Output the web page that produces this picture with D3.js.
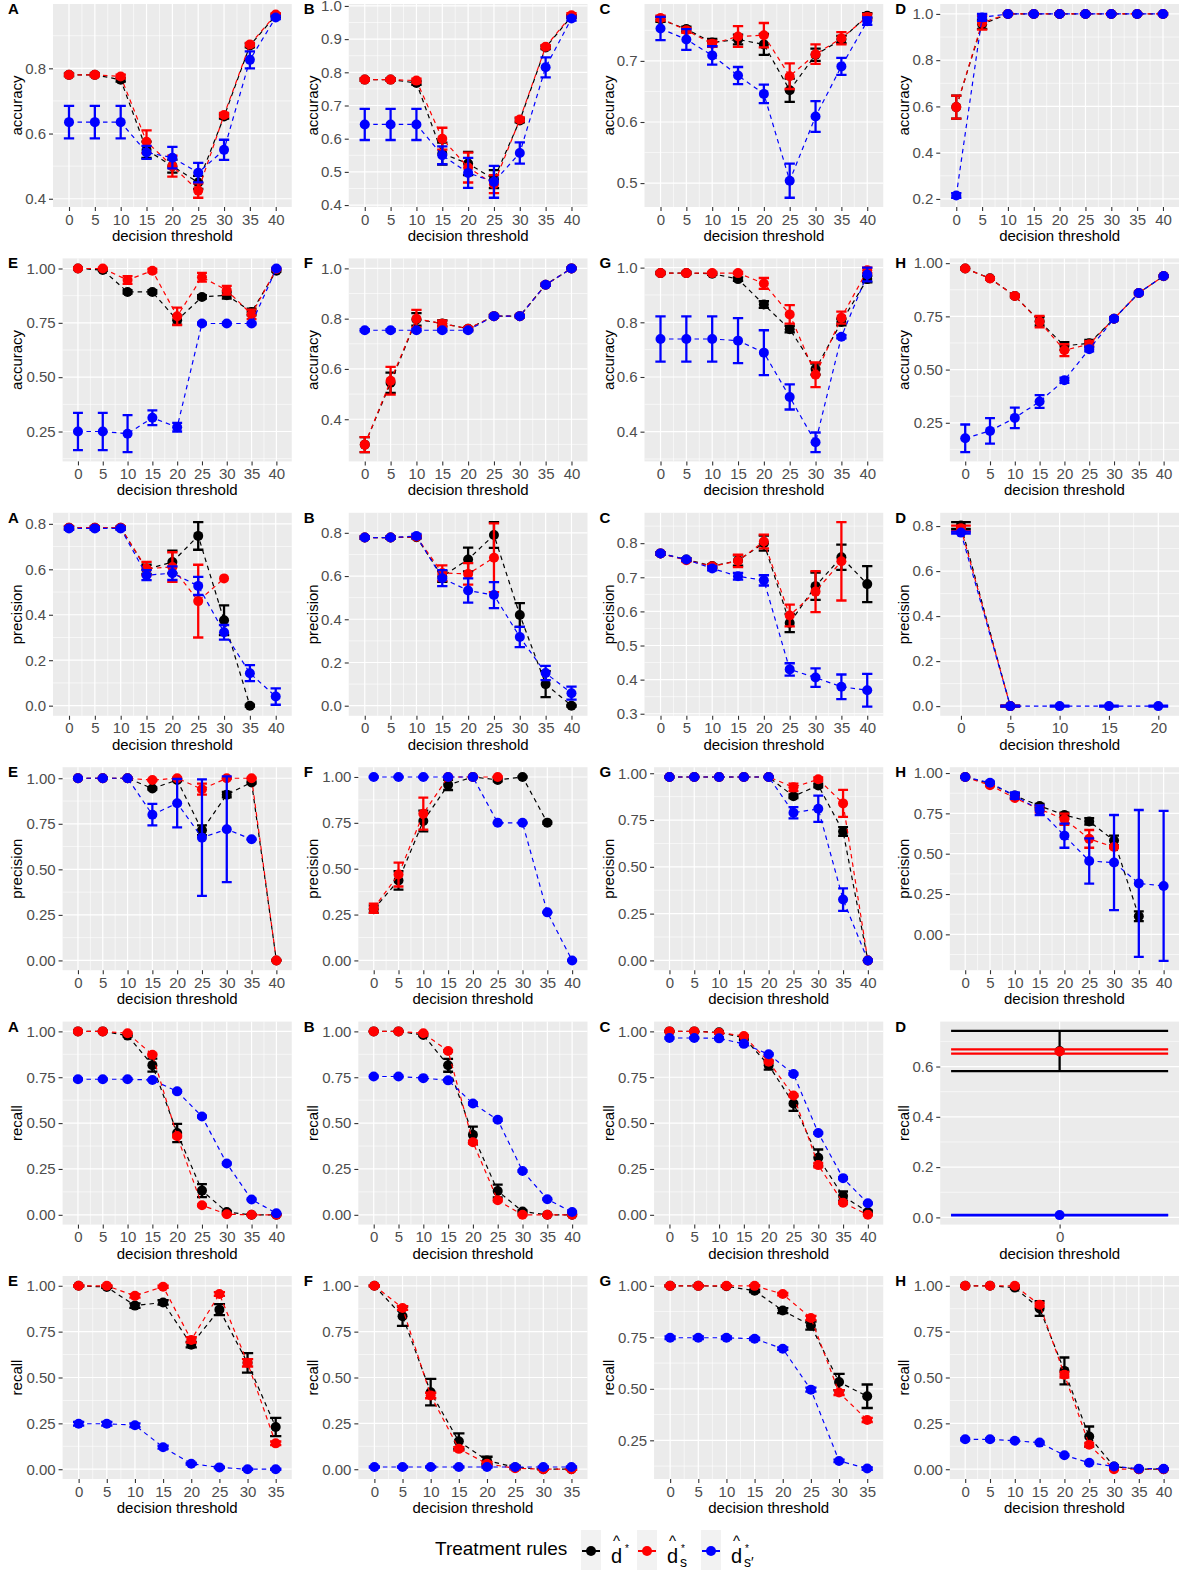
<!DOCTYPE html>
<html>
<head>
<meta charset="utf-8">
<script src="https://cdn.jsdelivr.net/npm/d3@7"></script>
<style>
  body { margin: 0; background: #fff; }
  text { font-family: "Liberation Sans", Arial, sans-serif; }
</style>
</head>
<body>
<div id="chart"></div>
<script>
// thresholds on the x axis
const thr9 = [0, 5, 10, 15, 20, 25, 30, 35, 40];
const thr8 = [0, 5, 10, 15, 20, 25, 30, 35];
const thr5 = [0, 5, 10, 15, 20];
const thr1 = [0];

// y tick labels per panel
const ticksA1 = [0.4, 0.6, 0.8];
const ticks01 = [0.4, 0.5, 0.6, 0.7, 0.8, 0.9, 1.0];
const ticksC1 = [0.5, 0.6, 0.7];
const ticks02 = [0.2, 0.4, 0.6, 0.8, 1.0];
const ticksQ = [0.25, 0.50, 0.75, 1.00];
const ticks04 = [0.4, 0.6, 0.8, 1.0];
const ticksP = [0, 0.2, 0.4, 0.6, 0.8];
const ticksC3 = [0.3, 0.4, 0.5, 0.6, 0.7, 0.8];
const ticksQ0 = [0, 0.25, 0.50, 0.75, 1.00];
const ticksD5 = [0, 0.2, 0.4, 0.6];

// ---- accuracy ----  (k = d*, s = d*_s, sp = d*_s')
const accA_k = [0.78, 0.78, 0.765, 0.55, 0.50, 0.45, 0.652, 0.87, 0.962];
const accA_kE = [0.004, 0.004, 0.006, 0.025, 0.02, 0.02, 0.006, 0.006, 0.004];
const accA_s = [0.78, 0.78, 0.775, 0.575, 0.50, 0.425, 0.657, 0.873, 0.965];
const accA_sE = [0.004, 0.004, 0.006, 0.035, 0.032, 0.022, 0.006, 0.005, 0.004];
const accA_sp = [0.635, 0.635, 0.635, 0.542, 0.526, 0.48, 0.55, 0.826, 0.956];
const accA_spE = [0.05, 0.05, 0.05, 0.02, 0.033, 0.03, 0.031, 0.026, 0.005];

const accB_k = [0.778, 0.778, 0.768, 0.555, 0.525, 0.478, 0.655, 0.875, 0.968];
const accB_kE = [0.004, 0.004, 0.006, 0.033, 0.035, 0.027, 0.006, 0.005, 0.004];
const accB_s = [0.778, 0.778, 0.775, 0.60, 0.513, 0.463, 0.658, 0.877, 0.972];
const accB_sE = [0.004, 0.004, 0.006, 0.033, 0.045, 0.027, 0.006, 0.005, 0.006];
const accB_sp = [0.643, 0.643, 0.643, 0.55, 0.497, 0.47, 0.557, 0.815, 0.962];
const accB_spE = [0.047, 0.047, 0.047, 0.027, 0.045, 0.048, 0.032, 0.03, 0.006];

const accC_k = [0.768, 0.752, 0.73, 0.735, 0.727, 0.652, 0.71, 0.735, 0.774];
const accC_kE = [0.004, 0.004, 0.006, 0.008, 0.017, 0.019, 0.01, 0.006, 0.004];
const accC_s = [0.77, 0.75, 0.728, 0.74, 0.742, 0.675, 0.711, 0.737, 0.772];
const accC_sE = [0.004, 0.004, 0.005, 0.017, 0.02, 0.021, 0.016, 0.01, 0.005];
const accC_sp = [0.753, 0.735, 0.709, 0.676, 0.646, 0.504, 0.609, 0.691, 0.765];
const accC_spE = [0.019, 0.017, 0.015, 0.014, 0.015, 0.028, 0.025, 0.014, 0.006];

const accD_k = [0.597, 0.955, 1, 1, 1, 1, 1, 1, 1];
const accD_kE = [0.05, 0.02, 0.003, 0.003, 0.003, 0.003, 0.003, 0.003, 0.003];
const accD_s = [0.597, 0.962, 1, 1, 1, 1, 1, 1, 1];
const accD_sE = [0.05, 0.03, 0.003, 0.003, 0.003, 0.003, 0.003, 0.003, 0.003];
const accD_sp = [0.215, 0.985, 1, 1, 1, 1, 1, 1, 1];
const accD_spE = [0.01, 0.015, 0.003, 0.003, 0.003, 0.003, 0.003, 0.003, 0.003];

const accE_k = [1, 0.993, 0.892, 0.892, 0.762, 0.869, 0.877, 0.8, 0.99];
const accE_kE = [0.003, 0.004, 0.008, 0.008, 0.02, 0.008, 0.015, 0.015, 0.006];
const accE_s = [1, 1, 0.947, 0.99, 0.78, 0.96, 0.9, 0.789, 0.998];
const accE_sE = [0.003, 0.003, 0.018, 0.008, 0.04, 0.02, 0.02, 0.022, 0.004];
const accE_sp = [0.25, 0.25, 0.24, 0.313, 0.27, 0.747, 0.747, 0.747, 1.0];
const accE_spE = [0.086, 0.086, 0.085, 0.034, 0.02, 0.004, 0.004, 0.004, 0.004];

const accF_k = [0.299, 0.545, 0.797, 0.781, 0.76, 0.81, 0.81, 0.935, 1.0];
const accF_kE = [0.03, 0.04, 0.025, 0.012, 0.006, 0.005, 0.005, 0.004, 0.003];
const accF_s = [0.299, 0.553, 0.8, 0.78, 0.76, 0.81, 0.81, 0.935, 1.0];
const accF_sE = [0.03, 0.055, 0.035, 0.012, 0.006, 0.005, 0.005, 0.004, 0.003];
const accF_sp = [0.754, 0.754, 0.754, 0.754, 0.754, 0.81, 0.81, 0.935, 1.0];
const accF_spE = [0.004, 0.004, 0.004, 0.004, 0.004, 0.004, 0.004, 0.004, 0.003];

const accG_k = [0.98, 0.98, 0.978, 0.958, 0.865, 0.775, 0.629, 0.801, 0.958];
const accG_kE = [0.004, 0.004, 0.004, 0.006, 0.012, 0.012, 0.02, 0.012, 0.012];
const accG_s = [0.98, 0.98, 0.98, 0.98, 0.942, 0.829, 0.608, 0.817, 0.99];
const accG_sE = [0.004, 0.004, 0.004, 0.004, 0.02, 0.034, 0.045, 0.022, 0.01];
const accG_sp = [0.739, 0.739, 0.739, 0.733, 0.689, 0.527, 0.361, 0.747, 0.975];
const accG_spE = [0.083, 0.083, 0.083, 0.082, 0.082, 0.046, 0.036, 0.006, 0.025];

const accH_k = [0.975, 0.929, 0.846, 0.727, 0.611, 0.624, 0.739, 0.86, 0.939];
const accH_kE = [0.004, 0.005, 0.006, 0.02, 0.018, 0.015, 0.006, 0.005, 0.004];
const accH_s = [0.975, 0.928, 0.846, 0.725, 0.591, 0.619, 0.739, 0.86, 0.94];
const accH_sE = [0.004, 0.005, 0.006, 0.027, 0.028, 0.015, 0.006, 0.005, 0.004];
const accH_sp = [0.177, 0.212, 0.273, 0.35, 0.45, 0.596, 0.739, 0.86, 0.94];
const accH_spE = [0.065, 0.06, 0.048, 0.03, 0.012, 0.01, 0.006, 0.005, 0.004];

// ---- precision ----
const preA_k = [0.783, 0.783, 0.783, 0.60, 0.632, 0.747, 0.376, 0, null];
const preA_kE = [0.006, 0.006, 0.006, 0.02, 0.05, 0.061, 0.065, 0.004, null];
const preA_s = [0.783, 0.783, 0.783, 0.603, 0.61, 0.46, 0.56, null, null];
const preA_sE = [0.006, 0.006, 0.006, 0.03, 0.065, 0.16, null, null, null];
const preA_sp = [0.78, 0.78, 0.78, 0.574, 0.583, 0.527, 0.323, 0.143, 0.04];
const preA_spE = [0.006, 0.006, 0.006, 0.022, 0.03, 0.04, 0.032, 0.035, 0.036];

const preB_k = [0.778, 0.778, 0.78, 0.598, 0.677, 0.79, 0.42, 0.1, 0];
const preB_kE = [0.006, 0.006, 0.006, 0.025, 0.055, 0.06, 0.055, 0.06, 0.004];
const preB_s = [0.778, 0.778, 0.782, 0.614, 0.61, 0.685, null, null, null];
const preB_sE = [0.006, 0.006, 0.006, 0.035, 0.05, 0.159, null, null, null];
const preB_sp = [0.778, 0.778, 0.785, 0.59, 0.533, 0.512, 0.318, 0.151, 0.058];
const preB_spE = [0.006, 0.006, 0.01, 0.037, 0.056, 0.06, 0.047, 0.033, 0.03];

const preC_k = [0.77, 0.752, 0.733, 0.749, 0.8, 0.566, 0.674, 0.759, 0.68];
const preC_kE = [0.004, 0.004, 0.005, 0.015, 0.022, 0.027, 0.04, 0.037, 0.053];
const preC_s = [0.77, 0.75, 0.732, 0.748, 0.805, 0.588, 0.658, 0.747, null];
const preC_sE = [0.004, 0.004, 0.005, 0.018, 0.02, 0.032, 0.06, 0.115, null];
const preC_sp = [0.77, 0.752, 0.726, 0.703, 0.691, 0.43, 0.406, 0.379, 0.369];
const preC_spE = [0.004, 0.004, 0.006, 0.01, 0.015, 0.018, 0.027, 0.036, 0.048];

const preD_k = [0.803, 0, null, null, null];
const preD_kE = [0.015, 0.002, null, null, null];
const preD_s = [0.79, 0, null, null, null];
const preD_sE = [0.012, 0.002, null, null, null];
const preD_sp = [0.771, 0, 0, 0, 0];
const preD_spE = [0.004, 0.002, 0.002, 0.002, 0.002];

const preE_k = [1, 1, 1, 0.944, 0.99, 0.714, 0.91, 0.977, 0];
const preE_kE = [0.003, 0.003, 0.003, 0.006, 0.006, 0.027, 0.015, 0.006, 0.003];
const preE_s = [1, 1, 1, 0.99, 1, 0.94, 1, 1, 0];
const preE_sE = [0.003, 0.003, 0.003, 0.004, 0.003, 0.03, 0.003, 0.003, 0.003];
const preE_sp = [1, 1, 1, 0.8, 0.863, 0.674, 0.72, 0.665, null];
const preE_spE = [0.003, 0.003, 0.003, 0.059, 0.133, 0.32, 0.29, 0.003, null];

const preF_k = [0.279, 0.436, 0.76, 0.957, 1, 0.984, 1, 0.751, null];
const preF_kE = [0.02, 0.05, 0.057, 0.028, 0.003, 0.008, 0.003, 0.006, null];
const preF_s = [0.285, 0.468, 0.8, 1, 1, 1, null, null, null];
const preF_sE = [0.025, 0.065, 0.087, 0.003, 0.003, 0.003, null, null, null];
const preF_sp = [1, 1, 1, 1, 1, 0.75, 0.75, 0.262, 0];
const preF_spE = [0.003, 0.003, 0.003, 0.003, 0.003, 0.003, 0.003, 0.003, 0.003];

const preG_k = [0.98, 0.98, 0.98, 0.98, 0.98, 0.877, 0.935, 0.689, 0];
const preG_kE = [0.003, 0.003, 0.003, 0.003, 0.003, 0.01, 0.01, 0.023, 0.003];
const preG_s = [0.98, 0.98, 0.98, 0.98, 0.98, 0.925, 0.968, 0.839, 0];
const preG_sE = [0.003, 0.003, 0.003, 0.003, 0.003, 0.02, 0.01, 0.072, 0.003];
const preG_sp = [0.98, 0.98, 0.98, 0.98, 0.98, 0.789, 0.81, 0.325, 0];
const preG_spE = [0.003, 0.003, 0.003, 0.003, 0.003, 0.03, 0.07, 0.06, 0.003];

const preH_k = [0.975, 0.935, 0.86, 0.796, 0.74, 0.7, 0.582, 0.112, null];
const preH_kE = [0.004, 0.006, 0.015, 0.012, 0.015, 0.02, 0.03, 0.03, null];
const preH_s = [0.975, 0.925, 0.845, 0.776, 0.714, 0.592, 0.541, null, null];
const preH_sE = [0.004, 0.006, 0.006, 0.02, 0.035, 0.055, 0.006, null, null];
const preH_sp = [0.975, 0.94, 0.86, 0.77, 0.612, 0.455, 0.445, 0.316, 0.3];
const preH_spE = [0.004, 0.006, 0.02, 0.03, 0.075, 0.14, 0.295, 0.455, 0.465];

// ---- recall ----
const recA_k = [1, 1, 0.977, 0.816, 0.446, 0.132, 0.015, 0, 0];
const recA_kE = [0.003, 0.003, 0.006, 0.035, 0.05, 0.035, 0.006, 0.003, 0.003];
const recA_s = [1, 1, 0.99, 0.873, 0.429, 0.052, 0.003, 0, 0];
const recA_sE = [0.003, 0.003, 0.004, 0.005, 0.006, 0.004, 0.003, 0.003, 0.003];
const recA_sp = [0.739, 0.739, 0.739, 0.735, 0.673, 0.536, 0.28, 0.084, 0.008];
const recA_spE = [0.005, 0.005, 0.005, 0.005, 0.005, 0.005, 0.005, 0.004, 0.003];

const recB_k = [1, 1, 0.98, 0.815, 0.436, 0.13, 0.018, 0, 0];
const recB_kE = [0.003, 0.003, 0.006, 0.035, 0.045, 0.035, 0.006, 0.003, 0.003];
const recB_s = [1, 1, 0.99, 0.893, 0.396, 0.079, 0, 0, 0];
const recB_sE = [0.003, 0.003, 0.004, 0.005, 0.008, 0.006, 0.003, 0.003, 0.003];
const recB_sp = [0.754, 0.754, 0.745, 0.733, 0.607, 0.518, 0.239, 0.085, 0.015];
const recB_spE = [0.005, 0.005, 0.005, 0.005, 0.006, 0.006, 0.005, 0.004, 0.003];

const recC_k = [1, 1, 0.995, 0.965, 0.816, 0.607, 0.311, 0.102, 0.015];
const recC_kE = [0.003, 0.003, 0.005, 0.012, 0.025, 0.04, 0.045, 0.025, 0.008];
const recC_s = [1, 1, 0.993, 0.975, 0.834, 0.65, 0.271, 0.066, 0];
const recC_sE = [0.003, 0.003, 0.004, 0.005, 0.006, 0.006, 0.012, 0.005, 0.003];
const recC_sp = [0.964, 0.964, 0.962, 0.932, 0.875, 0.768, 0.446, 0.2, 0.063];
const recC_spE = [0.005, 0.005, 0.005, 0.005, 0.005, 0.005, 0.005, 0.005, 0.004];

const recD_k = [0.662];
const recD_kE = [0.08];
const recD_s = [0.66];
const recD_sE = [0.0085];
const recD_sp = [0.009];
const recD_spE = [0.001];

const recE_k = [1, 0.993, 0.892, 0.909, 0.679, 0.87, 0.58, 0.23];
const recE_kE = [0.003, 0.004, 0.012, 0.012, 0.015, 0.03, 0.053, 0.05];
const recE_s = [1, 1, 0.945, 0.995, 0.705, 0.955, 0.58, 0.141];
const recE_sE = [0.003, 0.003, 0.01, 0.006, 0.015, 0.01, 0.02, 0.01];
const recE_sp = [0.248, 0.248, 0.24, 0.12, 0.03, 0.01, 0, 0];
const recE_spE = [0.01, 0.01, 0.01, 0.008, 0.005, 0.004, 0.003, 0.003];

const recF_k = [1, 0.834, 0.42, 0.152, 0.048, 0.01, 0, 0];
const recF_kE = [0.003, 0.053, 0.072, 0.043, 0.02, 0.01, 0.003, 0.003];
const recF_s = [1, 0.879, 0.402, 0.111, 0.03, 0.005, 0, 0];
const recF_sE = [0.003, 0.01, 0.015, 0.01, 0.01, 0.005, 0.003, 0.003];
const recF_sp = [0.012, 0.012, 0.012, 0.012, 0.012, 0.012, 0.012, 0.012];
const recF_spE = [0.003, 0.003, 0.003, 0.003, 0.003, 0.003, 0.003, 0.003];

const recG_k = [1, 1, 0.998, 0.976, 0.88, 0.807, 0.533, 0.464];
const recG_kE = [0.003, 0.003, 0.003, 0.006, 0.012, 0.02, 0.04, 0.057];
const recG_s = [1, 1, 1, 1, 0.96, 0.844, 0.482, 0.349];
const recG_sE = [0.003, 0.003, 0.003, 0.003, 0.006, 0.01, 0.012, 0.01];
const recG_sp = [0.748, 0.748, 0.748, 0.743, 0.695, 0.496, 0.15, 0.113];
const recG_spE = [0.006, 0.006, 0.006, 0.006, 0.006, 0.01, 0.006, 0.006];

const recH_k = [1, 1, 0.99, 0.876, 0.536, 0.178, 0.015, 0, 0];
const recH_kE = [0.003, 0.003, 0.006, 0.04, 0.073, 0.055, 0.006, 0.003, 0.003];
const recH_s = [1, 1, 1, 0.897, 0.515, 0.133, 0, 0, 0];
const recH_sE = [0.003, 0.003, 0.003, 0.01, 0.015, 0.01, 0.003, 0.003, 0.003];
const recH_sp = [0.163, 0.163, 0.155, 0.145, 0.076, 0.035, 0.015, 0.003, 0.003];
const recH_spE = [0.005, 0.005, 0.005, 0.005, 0.005, 0.005, 0.004, 0.003, 0.003];

// panel table, row by row: tag, y title, x values, y ticks, label digits, series
const panels = [
  ["A", "accuracy", thr9, ticksA1, 1, accA_k, accA_kE, accA_s, accA_sE, accA_sp, accA_spE],
  ["B", "accuracy", thr9, ticks01, 1, accB_k, accB_kE, accB_s, accB_sE, accB_sp, accB_spE],
  ["C", "accuracy", thr9, ticksC1, 1, accC_k, accC_kE, accC_s, accC_sE, accC_sp, accC_spE],
  ["D", "accuracy", thr9, ticks02, 1, accD_k, accD_kE, accD_s, accD_sE, accD_sp, accD_spE],
  ["E", "accuracy", thr9, ticksQ, 2, accE_k, accE_kE, accE_s, accE_sE, accE_sp, accE_spE],
  ["F", "accuracy", thr9, ticks04, 1, accF_k, accF_kE, accF_s, accF_sE, accF_sp, accF_spE],
  ["G", "accuracy", thr9, ticks04, 1, accG_k, accG_kE, accG_s, accG_sE, accG_sp, accG_spE],
  ["H", "accuracy", thr9, ticksQ, 2, accH_k, accH_kE, accH_s, accH_sE, accH_sp, accH_spE],
  ["A", "precision", thr9, ticksP, 1, preA_k, preA_kE, preA_s, preA_sE, preA_sp, preA_spE],
  ["B", "precision", thr9, ticksP, 1, preB_k, preB_kE, preB_s, preB_sE, preB_sp, preB_spE],
  ["C", "precision", thr9, ticksC3, 1, preC_k, preC_kE, preC_s, preC_sE, preC_sp, preC_spE],
  ["D", "precision", thr5, ticksP, 1, preD_k, preD_kE, preD_s, preD_sE, preD_sp, preD_spE],
  ["E", "precision", thr9, ticksQ0, 2, preE_k, preE_kE, preE_s, preE_sE, preE_sp, preE_spE],
  ["F", "precision", thr9, ticksQ0, 2, preF_k, preF_kE, preF_s, preF_sE, preF_sp, preF_spE],
  ["G", "precision", thr9, ticksQ0, 2, preG_k, preG_kE, preG_s, preG_sE, preG_sp, preG_spE],
  ["H", "precision", thr9, ticksQ0, 2, preH_k, preH_kE, preH_s, preH_sE, preH_sp, preH_spE],
  ["A", "recall", thr9, ticksQ0, 2, recA_k, recA_kE, recA_s, recA_sE, recA_sp, recA_spE],
  ["B", "recall", thr9, ticksQ0, 2, recB_k, recB_kE, recB_s, recB_sE, recB_sp, recB_spE],
  ["C", "recall", thr9, ticksQ0, 2, recC_k, recC_kE, recC_s, recC_sE, recC_sp, recC_spE],
  ["D", "recall", thr1, ticksD5, 1, recD_k, recD_kE, recD_s, recD_sE, recD_sp, recD_spE],
  ["E", "recall", thr8, ticksQ0, 2, recE_k, recE_kE, recE_s, recE_sE, recE_sp, recE_spE],
  ["F", "recall", thr8, ticksQ0, 2, recF_k, recF_kE, recF_s, recF_sE, recF_sp, recF_spE],
  ["G", "recall", thr8, ticksQ, 2, recG_k, recG_kE, recG_s, recG_sE, recG_sp, recG_spE],
  ["H", "recall", thr9, ticksQ0, 2, recH_k, recH_kE, recH_s, recH_sE, recH_sp, recH_spE]
];

const colours = ["black", "red", "blue"];

const W = 1183, H = 1572;
const colW = W / 4, rowH = 254.4;
const tickFont = 15, titleFont = 15;

let svg = d3.select("#chart").append("svg")
    .attr("width", W)
    .attr("height", H);

svg.append("rect").attr("width", W).attr("height", H).attr("fill", "#fff");

function textWidth(str, size) {
    let t = svg.append("text").style("font-size", size + "px").text(str);
    let w = t.node().getComputedTextLength();
    t.remove();
    return w;
}

panels.forEach(function (p, i) {
    let [tag, ylab, xs, yt, digits, k, kE, s, sE, sp, spE] = p;
    let gx = (i % 4) * colW, gy = Math.floor(i / 4) * rowH;
    let step = yt[1] - yt[0];
    let fmt = d3.format("." + digits + "f");

    let series = [[k, kE], [s, sE], [sp, spE]].map(function (a, j) {
        return {
            colour: colours[j],
            pts: xs.map((x, n) => ({ x: x, m: a[0][n], e: a[1][n] })).filter(d => d.m != null)
        };
    });

    let all = series.flatMap(d => d.pts);
    let lo = d3.min(all, d => d.m - (d.e || 0));
    let hi = d3.max(all, d => d.m + (d.e || 0));
    let yp = 0.05 * (hi - lo);
    let dlo = lo - yp, dhi = hi + yp;
    let yMajor = yt.filter(d => d >= dlo - 1e-9 && d <= dhi + 1e-9);

    let labW = d3.max(yMajor, d => textWidth(fmt(d), tickFont));
    let left = gx + 22 + labW * 1.15 + 7;
    let right = gx + colW - 4;
    let top = gy + 4, bottom = gy + 207;

    // x limits include the error bar caps (+-1), then 5% expansion
    let x0 = d3.min(xs) - 1, x1 = d3.max(xs) + 1;
    let xp = 0.05 * (x1 - x0);
    let x = d3.scaleLinear().domain([x0 - xp, x1 + xp]).range([left, right]);
    let y = d3.scaleLinear().domain([dlo, dhi]).range([bottom, top]);

    let g = svg.append("g");

    g.append("rect")
        .attr("x", left).attr("y", top)
        .attr("width", right - left).attr("height", bottom - top)
        .attr("fill", "#EBEBEB");

    // minor grid
    let yMinor = [yt[0] - step / 2].concat(yt.map(d => d + step / 2)).filter(d => d > dlo && d < dhi);
    let xMinor = xs.slice(1).map((d, n) => (d + xs[n]) / 2);
    g.selectAll(".ymin").data(yMinor).enter().append("line")
        .attr("x1", left).attr("x2", right)
        .attr("y1", d => y(d)).attr("y2", d => y(d))
        .attr("stroke", "#fff").attr("stroke-width", 0.6);
    g.selectAll(".xmin").data(xMinor).enter().append("line")
        .attr("y1", top).attr("y2", bottom)
        .attr("x1", d => x(d)).attr("x2", d => x(d))
        .attr("stroke", "#fff").attr("stroke-width", 0.6);

    // major grid
    g.selectAll(".ymaj").data(yMajor).enter().append("line")
        .attr("x1", left).attr("x2", right)
        .attr("y1", d => y(d)).attr("y2", d => y(d))
        .attr("stroke", "#fff").attr("stroke-width", 1.2);
    g.selectAll(".xmaj").data(xs).enter().append("line")
        .attr("y1", top).attr("y2", bottom)
        .attr("x1", d => x(d)).attr("x2", d => x(d))
        .attr("stroke", "#fff").attr("stroke-width", 1.2);

    // axes
    let ya = g.append("g")
        .attr("transform", "translate(" + left + ",0)")
        .call(d3.axisLeft(y).tickValues(yMajor).tickSize(4).tickPadding(3).tickFormat(fmt));
    let xa = g.append("g")
        .attr("transform", "translate(0," + bottom + ")")
        .call(d3.axisBottom(x).tickValues(xs).tickSize(4).tickPadding(3).tickFormat(d3.format("d")));
    [ya, xa].forEach(function (a) {
        a.select(".domain").remove();
        a.selectAll("line").attr("stroke", "#333").attr("stroke-width", 1.1);
        a.selectAll("text")
            .style("font-size", tickFont + "px")
            .style("font-family", "Liberation Sans, Arial, sans-serif")
            .attr("fill", "#4D4D4D");
    });

    g.append("text")
        .attr("x", (left + right) / 2).attr("y", bottom + 34)
        .attr("text-anchor", "middle")
        .style("font-size", titleFont + "px")
        .text("decision threshold");

    g.append("text")
        .attr("transform", "translate(" + (gx + 22) + "," + ((top + bottom) / 2) + ") rotate(-90)")
        .attr("text-anchor", "middle")
        .style("font-size", titleFont + "px")
        .text(ylab);

    g.append("text")
        .attr("x", gx + 8).attr("y", gy + 14)
        .style("font-size", "15px").style("font-weight", "bold")
        .text(tag);

    // data, clipped to the panel
    let clipId = "clip" + i;
    g.append("clipPath").attr("id", clipId).append("rect")
        .attr("x", left).attr("y", top)
        .attr("width", right - left).attr("height", bottom - top);
    let data = g.append("g").attr("clip-path", "url(#" + clipId + ")");

    let line = d3.line().x(d => x(d.x)).y(d => y(d.m));
    let half = 1;

    series.forEach(function (sr) {
        data.append("path")
            .datum(sr.pts)
            .attr("d", line)
            .attr("fill", "none")
            .attr("stroke", sr.colour)
            .attr("stroke-width", 1.2)
            .attr("stroke-dasharray", "4.5,4");

        let eb = sr.pts.filter(d => d.e != null);
        let bars = data.selectAll(null).data(eb).enter().append("g")
            .attr("stroke", sr.colour).attr("stroke-width", 2.3).attr("fill", "none");
        bars.append("line")
            .attr("x1", d => x(d.x)).attr("x2", d => x(d.x))
            .attr("y1", d => y(d.m - d.e)).attr("y2", d => y(d.m + d.e));
        bars.append("line")
            .attr("x1", d => x(d.x - half)).attr("x2", d => x(d.x + half))
            .attr("y1", d => y(d.m - d.e)).attr("y2", d => y(d.m - d.e));
        bars.append("line")
            .attr("x1", d => x(d.x - half)).attr("x2", d => x(d.x + half))
            .attr("y1", d => y(d.m + d.e)).attr("y2", d => y(d.m + d.e));

        data.selectAll(null).data(sr.pts).enter().append("circle")
            .attr("cx", d => x(d.x)).attr("cy", d => y(d.m))
            .attr("r", 5)
            .attr("fill", sr.colour);
    });
});

// legend
let leg = svg.append("g");
leg.append("text")
    .attr("x", 435).attr("y", 1555)
    .style("font-size", "19px")
    .text("Treatment rules");

const legendSubs = ["", "s", "s\u2032"];
const legendKeyX = [591, 647, 711];

colours.forEach(function (c, j) {
    let kx = legendKeyX[j];
    leg.append("rect")
        .attr("x", kx - 10).attr("y", 1530)
        .attr("width", 20).attr("height", 40)
        .attr("fill", "#F2F2F2");
    leg.append("line")
        .attr("x1", kx - 9).attr("x2", kx + 9)
        .attr("y1", 1551).attr("y2", 1551)
        .attr("stroke", c).attr("stroke-width", 2);
    leg.append("circle").attr("cx", kx).attr("cy", 1551).attr("r", 5).attr("fill", c);

    let lx = kx + 20;
    leg.append("text").attr("x", lx).attr("y", 1563).style("font-size", "20px").text("d");
    leg.append("text").attr("x", lx + 2).attr("y", 1546).style("font-size", "15px").text("^");
    leg.append("text").attr("x", lx + 14).attr("y", 1552).style("font-size", "10px").text("*");
    if (legendSubs[j]) {
        leg.append("text").attr("x", lx + 13).attr("y", 1567).style("font-size", "14px").text(legendSubs[j]);
    }
});
</script>
</body>
</html>
